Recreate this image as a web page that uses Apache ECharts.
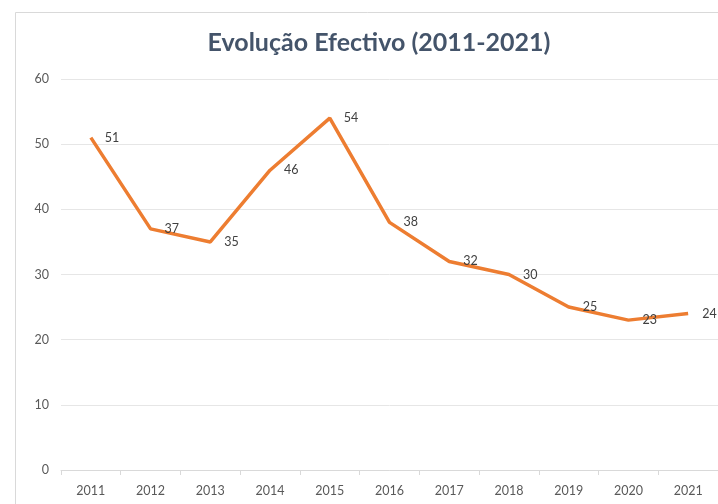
<!DOCTYPE html>
<html><head><meta charset="utf-8">
<script src="https://cdn.jsdelivr.net/npm/echarts@6/dist/echarts.min.js"></script>
<style>html,body{margin:0;padding:0;background:#fff}#c{width:718px;height:504px}</style>
</head><body><div id="c"></div>
<script>
const titleText = 'Evolução Efectivo (2011-2021)';
const years = ['2011','2012','2013','2014','2015','2016','2017','2018','2019','2020','2021'];
const efectivo = [51, 37, 35, 46, 54, 38, 32, 30, 25, 23, 24];
const yTicks = {min: 0, max: 60, interval: 10};

const chart = echarts.init(document.getElementById('c'), null, {renderer: 'canvas'});
chart.setOption({
  backgroundColor: '#fff',
  animation: false,
  textStyle: {fontFamily: 'Lato, "Open Sans", sans-serif'},
  graphic: [{
    type: 'rect', left: 13, top: 10, shape: {width: 720, height: 510},
    style: {fill: 'none', stroke: '#d9d9d9', lineWidth: 1}, silent: true, z: -1
  }, {
    type: 'text', x: 379, y: 43, silent: true,
    style: {text: titleText, align: 'center', verticalAlign: 'middle',
      font: 'bold 25px Lato, "Open Sans", sans-serif', fill: '#44546A'}
  }],
  grid: {left: 61, right: 0, top: 79, bottom: 34, containLabel: false},
  xAxis: {
    type: 'category', data: years, boundaryGap: true,
    axisLine: {lineStyle: {color: '#d9d9d9'}},
    axisTick: {show: true, alignWithLabel: false, length: 5, lineStyle: {color: '#d9d9d9'}},
    axisLabel: {color: '#595959', fontSize: 12.5, margin: 14}
  },
  yAxis: {
    type: 'value', min: yTicks.min, max: yTicks.max, interval: yTicks.interval,
    axisLine: {show: false}, axisTick: {show: false},
    axisLabel: {color: '#595959', fontSize: 12.5, margin: 12},
    splitLine: {lineStyle: {color: '#e6e6e6'}}
  },
  series: [{
    type: 'line', data: efectivo, showSymbol: true, symbol: 'circle', symbolSize: 2,
    lineStyle: {color: '#ED7D31', width: 3.5},
    itemStyle: {color: 'rgba(237,125,49,0)', borderWidth: 0},
    label: {show: true, position: 'right', distance: 13, color: '#404040', fontSize: 12.5},
    labelLayout: {hideOverlap: false}
  }]
});
</script></body></html>
